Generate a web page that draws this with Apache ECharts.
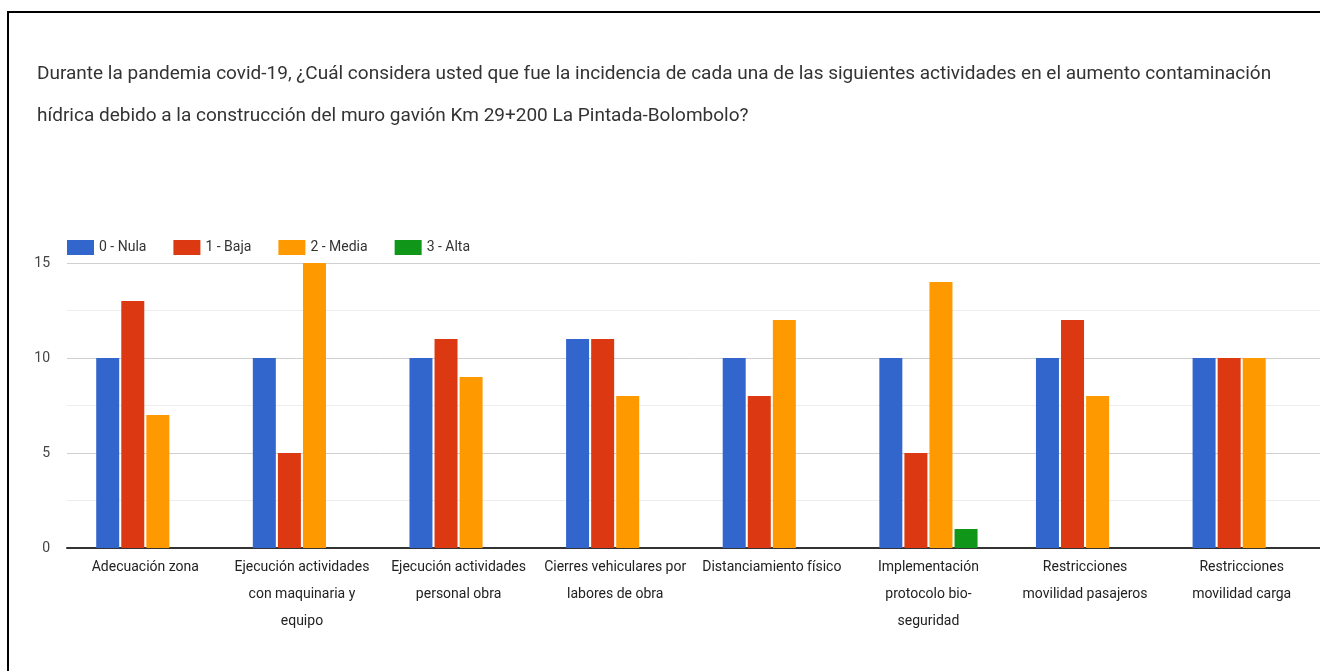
<!DOCTYPE html>
<html>
<head>
<meta charset="utf-8">
<script src="https://cdn.jsdelivr.net/npm/echarts@6/dist/echarts.min.js"></script>
<style>
html,body{margin:0;padding:0;background:#fff;}
#chart{width:1320px;height:671px;}
</style>
</head>
<body>
<div id="chart"></div>
<script>
const titleLines = [
  'Durante la pandemia covid-19, ¿Cuál considera usted que fue la incidencia de cada una de las siguientes actividades en el aumento contaminación',
  'hídrica debido a la construcción del muro gavión Km 29+200 La Pintada-Bolombolo?'
];
const categories = [
  'Adecuación zona',
  'Ejecución actividades\ncon maquinaria y\nequipo',
  'Ejecución actividades\npersonal obra',
  'Cierres vehiculares por\nlabores de obra',
  'Distanciamiento físico',
  'Implementación\nprotocolo bio-\nseguridad',
  'Restricciones\nmovilidad pasajeros',
  'Restricciones\nmovilidad carga'
];
const seriesNames = ['0 - Nula', '1 - Baja', '2 - Media', '3 - Alta'];
const seriesColors = ['#3366cc', '#dc3912', '#ff9900', '#109618'];
const nula  = [10, 10, 10, 11, 10, 10, 10, 10];
const baja  = [13, 5, 11, 11, 8, 5, 12, 10];
const media = [7, 15, 9, 8, 12, 14, 8, 10];
const alta  = [0, 0, 0, 0, 0, 1, 0, 0];
const seriesValues = [nula, baja, media, alta];

const chart = echarts.init(document.getElementById('chart'), null, {renderer: 'canvas'});
chart.setOption({
  animation: false,
  backgroundColor: '#fff',
  title: {
    text: titleLines.join('\n'),
    left: 37,
    top: 53,
    padding: 0,
    textStyle: {
      fontFamily: 'Roboto',
      fontWeight: 'normal',
      fontSize: 19,
      lineHeight: 42,
      color: '#333'
    }
  },
  graphic: [{
    type: 'rect',
    shape: {x: 8, y: 12, width: 1330, height: 700},
    style: {fill: 'none', stroke: '#000', lineWidth: 2},
    silent: true
  }],
  legend: {
    left: 67,
    top: 240,
    padding: 0,
    itemWidth: 27,
    itemHeight: 15,
    itemGap: 27,
    icon: 'rect',
    textStyle: {fontFamily: 'Roboto', fontSize: 14, color: '#333'},
    data: seriesNames
  },
  grid: {left: 67, right: 0, top: 263, bottom: 123, containLabel: false},
  xAxis: {
    type: 'category',
    data: categories,
    axisLine: {show: true, lineStyle: {color: '#333', width: 2}},
    axisTick: {show: false},
    axisLabel: {
      interval: 0,
      fontFamily: 'Roboto',
      fontSize: 14,
      color: '#222',
      lineHeight: 27,
      margin: 6
    }
  },
  yAxis: {
    type: 'value',
    min: 0,
    max: 15,
    interval: 5,
    axisLine: {show: false},
    axisTick: {show: false},
    axisLabel: {fontFamily: 'Roboto', fontSize: 14, color: '#444', margin: 17},
    splitLine: {lineStyle: {color: '#d0d0d0', width: 1}},
    minorTick: {show: false, splitNumber: 2},
    minorSplitLine: {show: true, lineStyle: {color: '#ededed', width: 1}}
  },
  series: seriesNames.map((name, i) => ({
    name: name,
    type: 'bar',
    data: seriesValues[i],
    barWidth: 23,
    barGap: '9%',
    itemStyle: {color: seriesColors[i]}
  }))
});
</script>
</body>
</html>
